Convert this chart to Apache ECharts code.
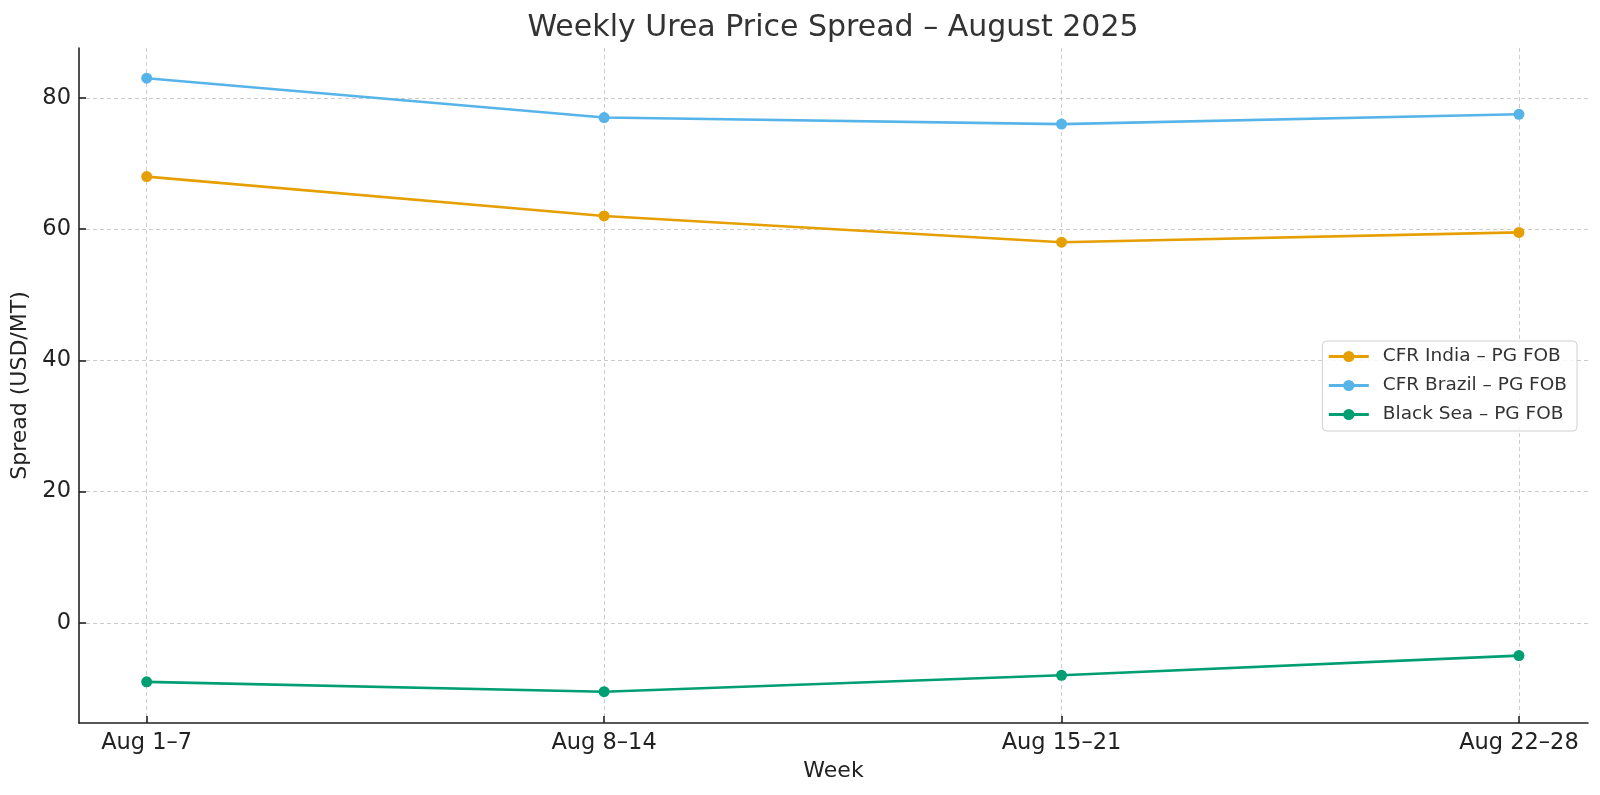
<!DOCTYPE html>
<html lang="en">

<head>
    <meta charset="UTF-8">
    <title>Weekly Urea Price Spread</title>
    <style>
        body {
            margin: 0;
            background: #fff;
        }

        #chart {
            width: 1600px;
            height: 795px;
        }
    </style>
</head>

<body>
    <div id="chart"></div>
    <script src="https://cdn.jsdelivr.net/npm/echarts@6/dist/echarts.min.js"></script>
    <script>
        const weeks = ['Aug 1–7', 'Aug 8–14', 'Aug 15–21', 'Aug 22–28'];
        const indiaSpread = [68, 62, 58, 59.5];
        const brazilSpread = [83, 77, 76, 77.5];
        const blackSeaSpread = [-9, -10.5, -8, -5];
        const yTicks = [0, 20, 40, 60, 80];

        const font = 'DejaVu Sans';
        const chart = echarts.init(document.getElementById('chart'));

        // x is a value axis over the week index so the padding matches the reference
        function pairs(values) {
            return values.map((v, i) => [i, v]);
        }

        function makeSeries(name, values, color) {
            return {
                name: name,
                type: 'line',
                data: pairs(values),
                symbol: 'circle',
                symbolSize: 11,
                lineStyle: { width: 2.6, color: color },
                itemStyle: { color: color },
                emphasis: { disabled: true }
            };
        }

        const gridLine = {
            show: true,
            lineStyle: { color: '#cccccc', width: 1, type: [4, 3] }
        };

        chart.setOption({
            animation: false,
            title: {
                text: 'Weekly Urea Price Spread – August 2025',
                left: 833,
                textAlign: 'center',
                top: 13,
                padding: 0,
                textStyle: { fontFamily: font, fontSize: 30, fontWeight: 'normal', color: '#333' }
            },
            grid: { left: 79, right: 12, top: 48, bottom: 72 },
            legend: {
                right: 23,
                top: 341,
                orient: 'vertical',
                itemWidth: 40,
                itemHeight: 14,
                itemGap: 10,
                padding: [6, 10, 7, 5],
                borderColor: '#d0d0d0',
                borderWidth: 1,
                borderRadius: 4,
                backgroundColor: 'rgba(255,255,255,0.85)',
                lineStyle: { width: 2.8 },
                textStyle: { fontFamily: font, fontSize: 18.5, color: '#333', padding: [0, 0, 0, 9] }
            },
            xAxis: {
                type: 'value',
                min: -0.148,
                max: 3.151,
                name: 'Week',
                nameLocation: 'middle',
                nameGap: 35,
                nameTextStyle: { fontFamily: font, fontSize: 22, color: '#222' },
                axisLine: { onZero: false, lineStyle: { color: '#222', width: 1.6 } },
                axisTick: { show: true, inside: true, length: 7, customValues: [0, 1, 2, 3], lineStyle: { color: '#222', width: 1.6 } },
                axisLabel: {
                    customValues: [0, 1, 2, 3],
                    formatter: v => weeks[Math.round(v)] || '',
                    margin: 9,
                    fontFamily: font,
                    fontSize: 22.5,
                    color: '#222'
                },
                splitLine: gridLine
            },
            yAxis: {
                type: 'value',
                min: -15.27,
                max: 87.6,
                name: 'Spread (USD/MT)',
                nameLocation: 'middle',
                nameGap: 41,
                nameTextStyle: { fontFamily: font, fontSize: 22, color: '#222' },
                axisLine: { show: true, onZero: false, lineStyle: { color: '#222', width: 1.6 } },
                axisTick: { show: true, inside: true, length: 7, customValues: yTicks, lineStyle: { color: '#222', width: 1.6 } },
                axisLabel: {
                    customValues: yTicks,
                    margin: 8,
                    fontFamily: font,
                    fontSize: 22.5,
                    color: '#222'
                },
                splitLine: gridLine
            },
            series: [
                makeSeries('CFR India – PG FOB', indiaSpread, '#E69F00'),
                makeSeries('CFR Brazil – PG FOB', brazilSpread, '#56B4E9'),
                makeSeries('Black Sea – PG FOB', blackSeaSpread, '#009E73')
            ]
        });
    </script>
</body>

</html>
